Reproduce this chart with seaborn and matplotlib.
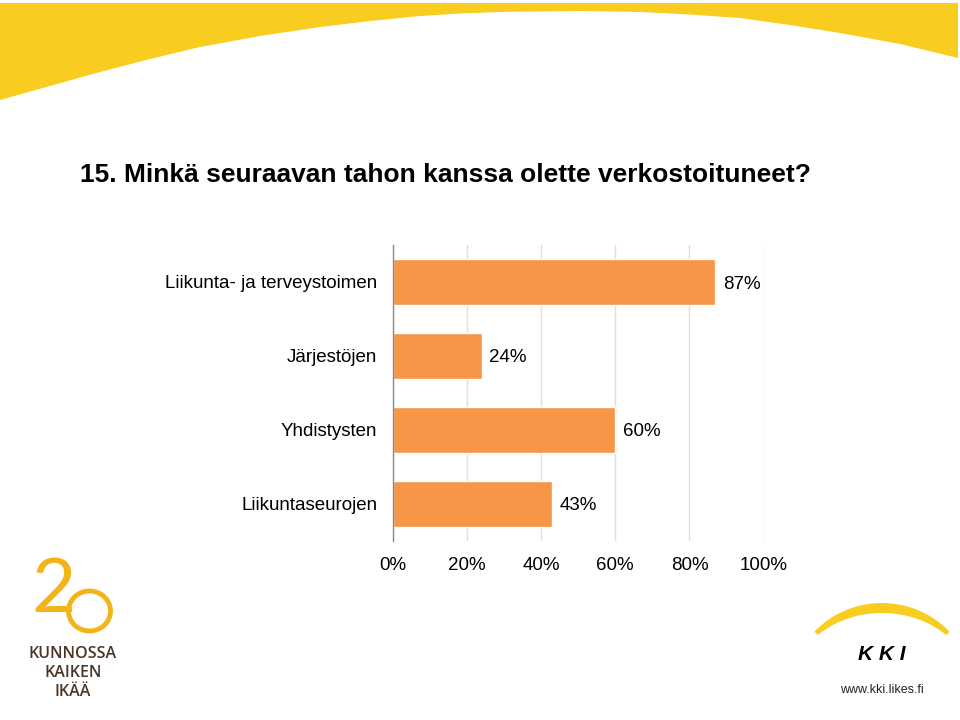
import seaborn as sns
import matplotlib.pyplot as plt
import numpy as np
import pandas as pd
from matplotlib.patches import Polygon, Ellipse
from matplotlib.ticker import FuncFormatter

# chart values
categories = ['Liikunta- ja terveystoimen', 'Järjestöjen', 'Yhdistysten', 'Liikuntaseurojen']
shares = [87, 24, 60, 43]
x_ticks = [0, 20, 40, 60, 80, 100]
title = '15. Minkä seuraavan tahon kanssa olette verkostoituneet?'

BAR_COLOR = '#F79646'
YELLOW = '#F8CD1F'
W, H = 960, 720

sns.set_style('white')
plt.rcParams['font.family'] = ['Liberation Sans', 'DejaVu Sans']
plt.rcParams['text.color'] = 'black'
plt.rcParams['xtick.color'] = 'black'
plt.rcParams['ytick.color'] = 'black'


def fx(px):
    return px / W


def fy(py):
    return 1 - py / H


df = pd.DataFrame({'taho': categories, 'osuus': shares})

fig = plt.figure(figsize=(9.6, 7.2), dpi=100)
ax = fig.add_axes([0.409, 0.249, 0.3865, 0.411])

sns.barplot(data=df, x='osuus', y='taho', orient='h', color=BAR_COLOR,
            saturation=1, width=0.62, ax=ax, zorder=3)

ax.set_xlim(0, 100)
ax.set_ylim(3.5, -0.5)
ax.set_xticks(x_ticks)
ax.xaxis.set_major_formatter(FuncFormatter(lambda v, p: f'{v:.0f}%'))
ax.tick_params(axis='x', length=0, pad=12, labelsize=13.5)
ax.tick_params(axis='y', length=0, pad=11, labelsize=13.5)
ax.set_xlabel('')
ax.set_ylabel('')
ax.grid(axis='x', color='#dcdfe3', linewidth=1, zorder=0)
for side in ['top', 'right', 'bottom']:
    ax.spines[side].set_visible(False)
ax.spines['left'].set_color('#8a8a8a')
ax.spines['left'].set_linewidth(1)
ax.spines['left'].set_zorder(4)

for bar, val in zip(ax.patches, shares):
    ax.text(val + 2.0, bar.get_y() + bar.get_height() / 2 + 0.03, f'{val}%',
            va='center', ha='left', fontsize=13.5)

fig.text(fx(80), fy(175), title, fontsize=19, fontweight='bold',
         va='center', ha='left')

# yellow band at top (decoration)
edge = [(0, 100), (50, 86), (100, 72), (150, 59), (200, 47), (260, 36), (320, 27),
        (370, 21), (420, 16), (460, 13.5), (500, 12), (580, 11), (640, 12),
        (690, 14.5), (740, 18), (790, 25), (840, 33), (900, 44), (958, 58)]
pts = [(0, 3)] + edge + [(958, 3)]
fig.patches.append(Polygon([(fx(x), fy(y)) for x, y in pts], closed=True,
                           facecolor=YELLOW, edgecolor='none',
                           transform=fig.transFigure, zorder=0))

# 20 logo bottom left
fig.text(fx(54), fy(590), '2', fontsize=55, color='#F2B418',
         ha='center', va='center', family='Lato', fontweight='normal')
fig.patches.append(Ellipse((fx(89.5), fy(611)), fx(42), 40 / H,
                           transform=fig.transFigure, fill=False,
                           edgecolor='#F2B418', linewidth=3.5))
for txt, yy in [('KUNNOSSA', 654), ('KAIKEN', 673), ('IKÄÄ', 692)]:
    fig.text(fx(73), fy(yy), txt, fontsize=11.5, color='#4a3526',
             ha='center', va='center', family='Open Sans', fontweight='semibold')

# KKI logo bottom right: tapered yellow arc
th = np.radians(np.linspace(-46, 46, 60))
r_out = 94
r_in = r_out - (5 + 5 * np.cos(2 * th))
cx, cy = 882, 697
outer = [(cx + r_out * np.sin(t), cy - r_out * np.cos(t)) for t in th]
inner = [(cx + r * np.sin(t), cy - r * np.cos(t)) for r, t in zip(r_in[::-1], th[::-1])]
fig.patches.append(Polygon([(fx(x), fy(y)) for x, y in outer + inner], closed=True,
                           facecolor=YELLOW, edgecolor='none',
                           transform=fig.transFigure))
fig.text(fx(882), fy(655), 'K K I', fontsize=15, fontweight='bold',
         fontstyle='italic', ha='center', va='center')
fig.text(fx(882), fy(690), 'www.kki.likes.fi', fontsize=9,
         ha='center', va='center', color='#222222')

fig.savefig('out.png', dpi=100, facecolor='white')
